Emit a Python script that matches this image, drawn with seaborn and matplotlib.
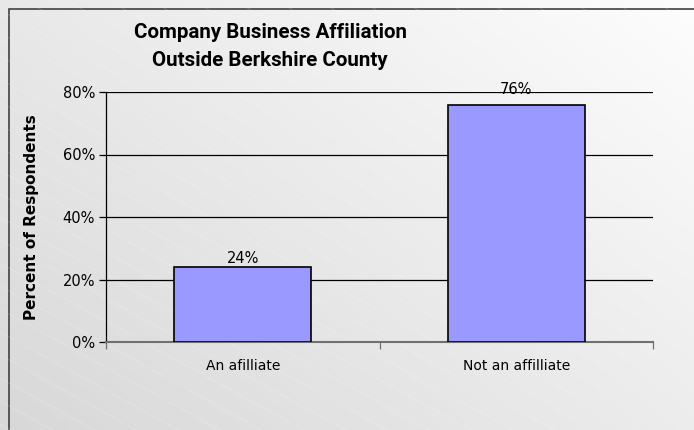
import numpy as np
import matplotlib
matplotlib.use("Agg")
import matplotlib.pyplot as plt
import seaborn as sns
import pandas as pd
from matplotlib import font_manager
from matplotlib.colors import LinearSegmentedColormap
from matplotlib.patches import Rectangle
from matplotlib.ticker import FixedLocator, PercentFormatter

categories = ["An afilliate", "Not an affilliate"]
percent = [24, 76]
y_ticks = [0, 20, 40, 60, 80]

df = pd.DataFrame({"category": categories, "percent": percent})

sns.set_theme(style="white")
plt.rcParams["font.family"] = ["DejaVu Sans"]
for key in ["text.color", "axes.labelcolor", "xtick.color", "ytick.color"]:
    plt.rcParams[key] = "black"


def pick_font(names):
    for n in names:
        try:
            font_manager.findfont(font_manager.FontProperties(family=n),
                                  fallback_to_default=False)
            return n
        except Exception:
            continue
    return "DejaVu Sans"


title_font = pick_font(["Liberation Sans Narrow", "DejaVu Sans Condensed", "Roboto", "DejaVu Sans"])

fig = plt.figure(figsize=(6.94, 4.30), dpi=100)

# diagonal light-gray gradient (light toward top-right) behind the chart
bg = fig.add_axes([0, 0, 1, 1], zorder=-10)
gx, gy = np.meshgrid(np.linspace(0, 1, 300), np.linspace(0, 1, 200))
grad = 0.55 * (1 - gx) + 0.45 * gy
bg_cmap = LinearSegmentedColormap.from_list("bg", ["#fdfdfd", "#d8d8d8"])
bg.imshow(grad, cmap=bg_cmap, vmin=0, vmax=1, aspect="auto",
          extent=[0, 1, 0, 1], origin="upper")
bg.set_xlim(0, 1)
bg.set_ylim(0, 1)
# faint white diagonal hatching
slope = -0.55 * 694 / 430
for b in np.arange(-0.2, 3.0, 23 / 430):
    xs = np.array([0, 1])
    bg.plot(xs, b + slope * xs, color="white", lw=0.6, alpha=0.2)
bg.add_patch(Rectangle((9 / 694, -0.1), 1.2, 1 - 9 / 430 + 0.1,
                       fill=False, edgecolor="#404040", lw=1.2,
                       transform=bg.transAxes))
bg.set_axis_off()

ax = fig.add_axes([106 / 694, 88 / 430, 547 / 694, 250 / 430])
ax.patch.set_alpha(0)
sns.barplot(data=df, x="category", y="percent", order=categories,
            color="#9999FF", saturation=1, width=0.5,
            edgecolor="black", linewidth=1.2, ax=ax, zorder=3)

ax.set_ylim(0, 80)
ax.set_xlim(-0.5, 1.5)
ax.yaxis.set_major_locator(FixedLocator(y_ticks))
ax.yaxis.set_major_formatter(PercentFormatter(decimals=0))
ax.grid(axis="y", color="black", lw=0.9, zorder=0)
ax.set_axisbelow(True)

for s in ["top", "right"]:
    ax.spines[s].set_visible(False)
ax.spines["left"].set_color("black")
ax.spines["left"].set_linewidth(0.9)
ax.spines["bottom"].set_color("#707070")
ax.spines["bottom"].set_linewidth(1.5)

ax.tick_params(axis="y", which="major", direction="out", length=5, width=0.9,
               color="black", labelsize=10.5, pad=3, left=True)
ax.set_xticks([0, 1])
ax.set_xticklabels(categories, fontsize=10)
ax.tick_params(axis="x", length=0, pad=12)
ax.set_xticks([-0.5, 0.5, 1.5], minor=True)
ax.tick_params(axis="x", which="minor", direction="out", length=5, width=0.9,
               color="#707070", bottom=True)

ax.set_xlabel("")
ax.set_ylabel("Percent of Respondents", fontsize=11, fontweight="bold", labelpad=17)

# value labels above each bar
label_pad = [0.8, 5.2]
for patch, v, pad in zip(ax.patches, percent, label_pad):
    ax.annotate(f"{v}%", (patch.get_x() + patch.get_width() / 2, v),
                xytext=(0, pad), textcoords="offset points",
                ha="center", va="bottom", fontsize=10.5, zorder=5)

fig.text(270 / 694, 1 - 47 / 430, "Company Business Affiliation\nOutside Berkshire County",
         ha="center", va="center", fontsize=14.8, fontweight="bold",
         family=title_font, linespacing=1.6)

fig.savefig("out.png", dpi=100)
